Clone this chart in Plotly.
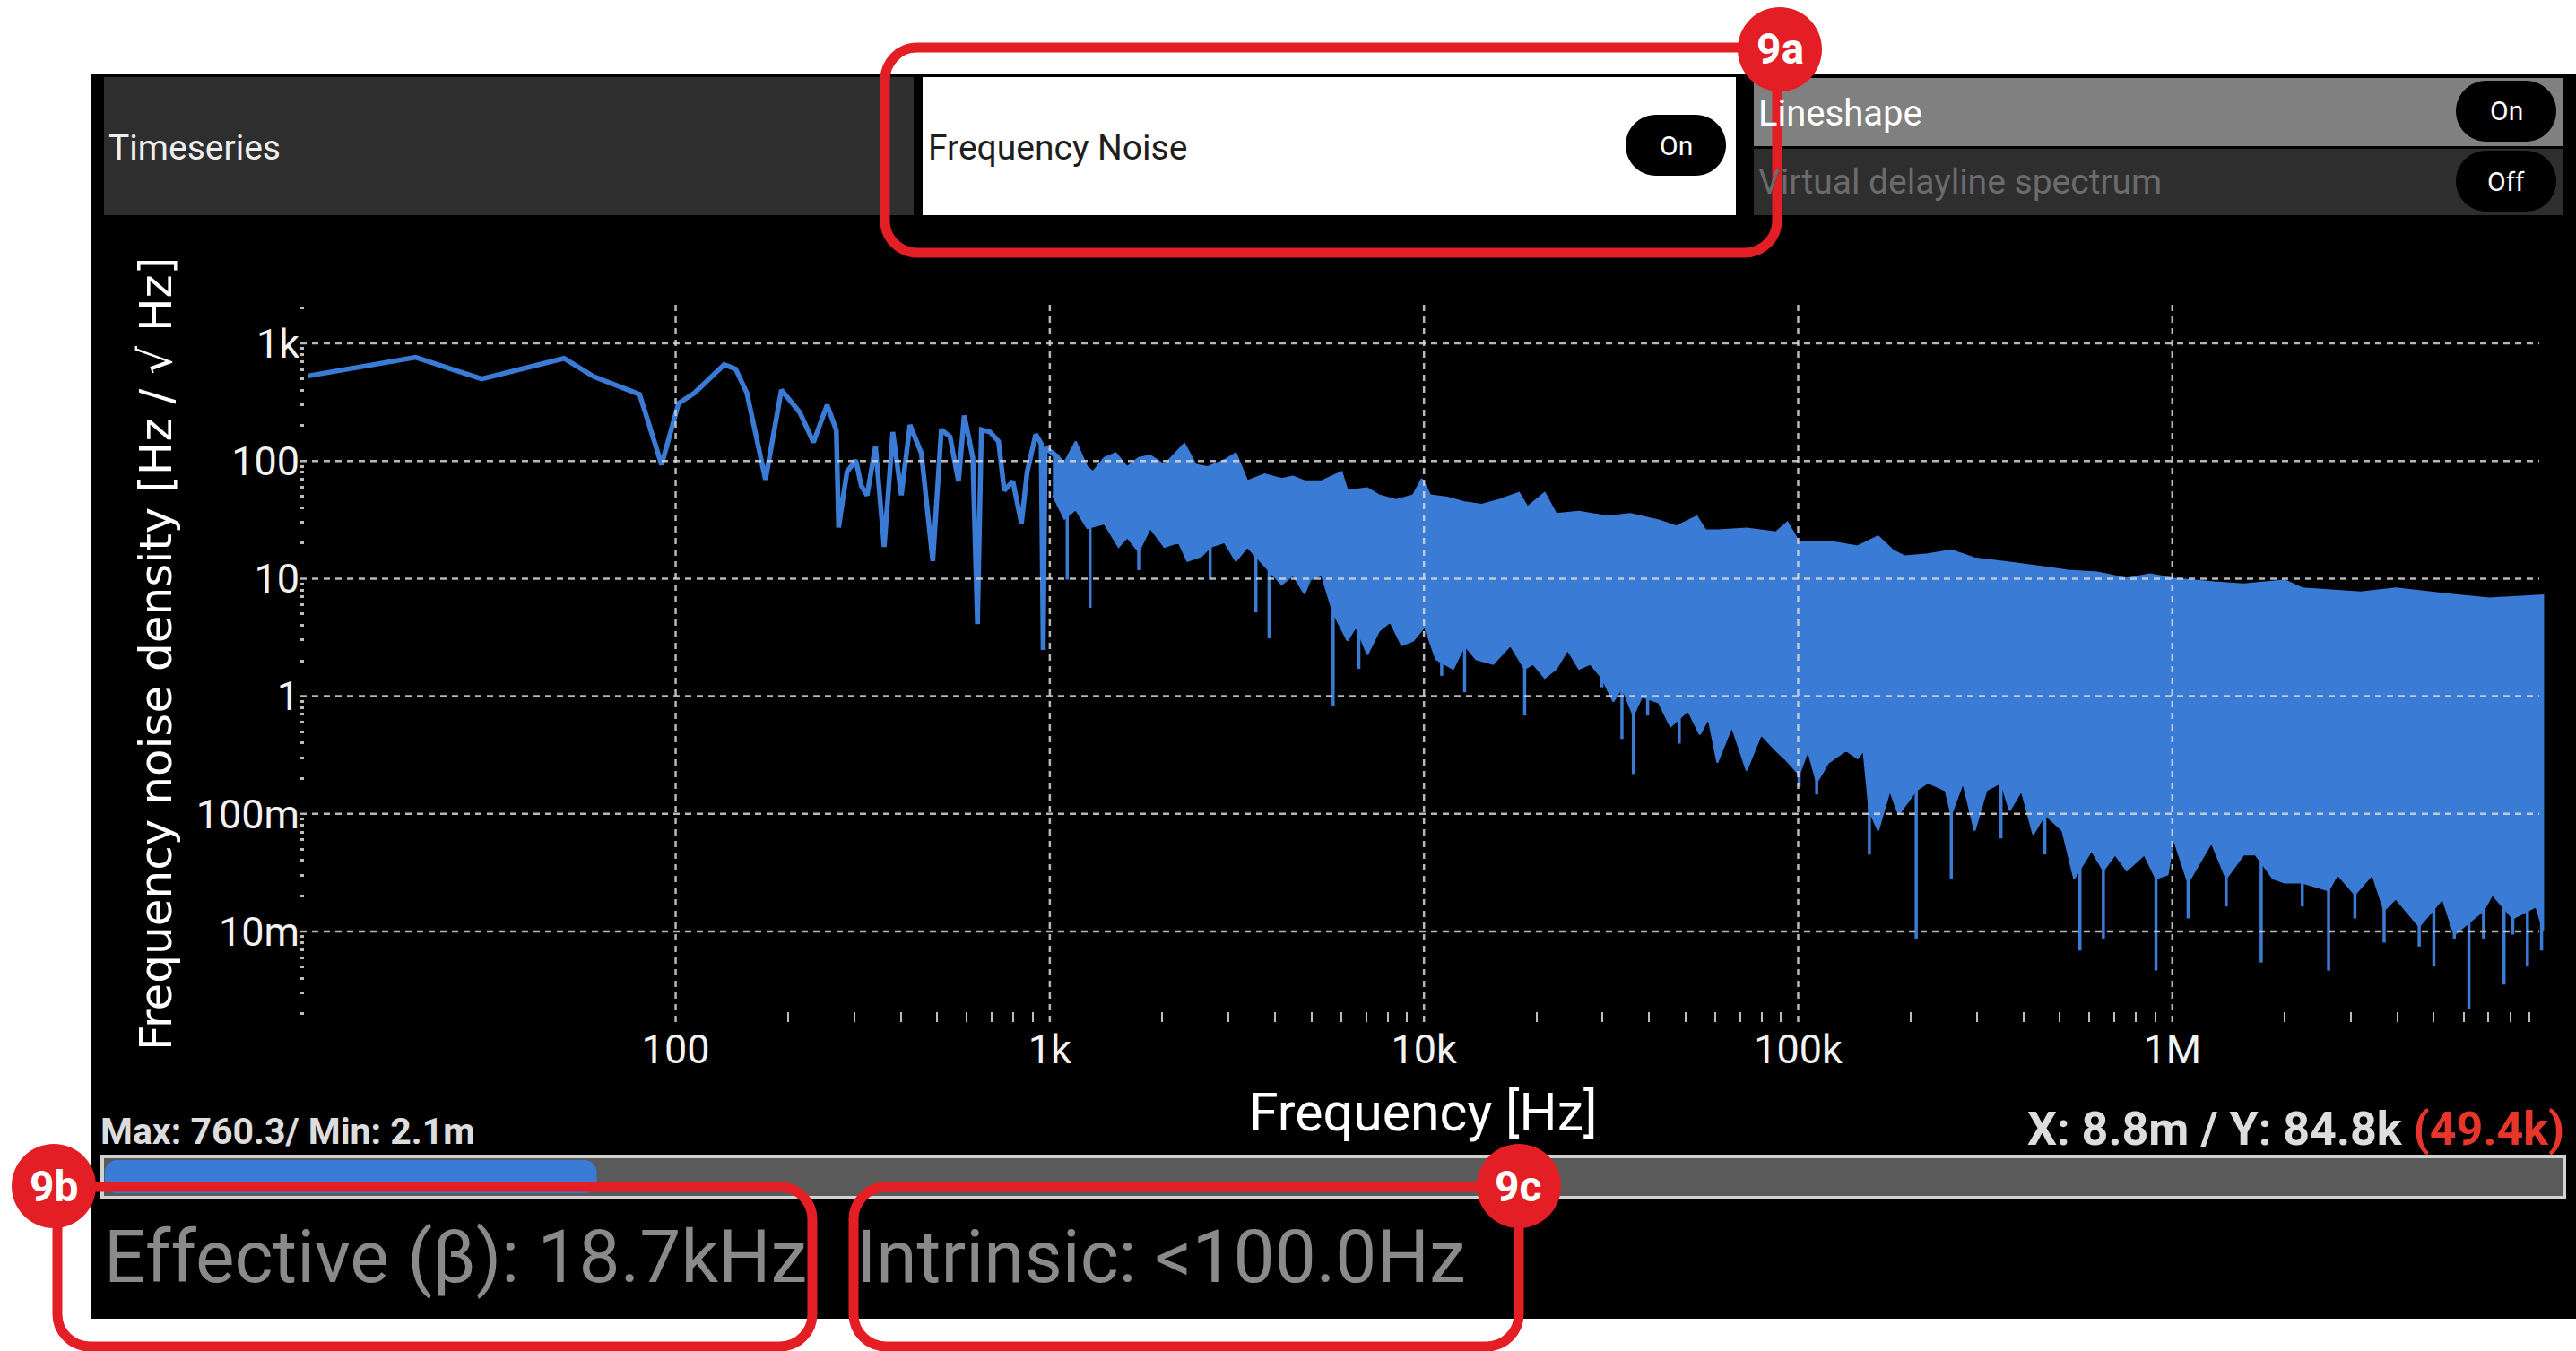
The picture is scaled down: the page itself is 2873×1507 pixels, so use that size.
import numpy as np
import plotly.graph_objects as go

W, H = 2873, 1507

# ---------------- data ----------------
# low-frequency part of the spectrum (single line)
low_freq = [10.4, 20.2, 30.3, 50.3, 60.4, 80.1, 91.7, 101.8, 112.3, 134.8, 144.7, 155, 173.8,
            191.7, 214.6, 233.5, 254, 268.8, 272.6, 287, 303, 313.5, 324.8, 342, 360.8, 380.5,
            401, 422.8, 453.6, 486.6, 513, 541, 570, 590.6, 622.6, 640.6, 656.4, 692, 729.4,
            755.5, 796.6, 839.8, 869.9, 917, 948, 959.8, 972, 1001, 1055]
low_val = [528, 760, 498, 745, 522, 368, 93, 309, 379, 660, 605, 379, 69.4,
           401, 259, 144, 300, 182, 27.2, 80.7, 101.6, 61.3, 51.1, 133.8, 18.6, 176,
           51.1, 202, 116.6, 14.1, 184.5, 160.8, 67.3, 243, 106.4, 4.1, 184.5, 176, 146.7,
           56, 67.3, 29.4, 80.8, 168.4, 140, 2.47, 130, 122, 106.4]

# dense part: upper contour
env_up_freq = [1019, 1094, 1173, 1259, 1304, 1399, 1501, 1610, 1728, 1854, 2024, 2289, 2457,
               2636, 2929, 3143, 3372, 3747, 4165, 4468, 4794, 5328, 6026, 6243, 7060, 7576,
               8418, 9357, 9863, 10400, 11550, 12840, 14270, 15860, 17940, 18910, 21020,
               22550, 25960, 30950, 35630,
               42400, 47300, 53600, 56600, 60800, 72800, 87200, 93600, 100600, 124900, 144200,
               163600, 179000, 192400, 222200, 256600, 296300, 367700, 440200, 527000, 630800,
               755300, 872300, 1007000, 1296000, 1551000, 1997000, 2225000, 3187000, 3956000,
               5470000, 7040000, 9800000]
env_up_val = [122.1, 97.1, 146.7, 88.6, 80.8, 106.4, 116.6, 88.6, 106.4, 111.4, 92.7, 140.1, 92.7,
              88.6, 101.6, 116.6, 67.3, 77.2, 70.4, 73.7, 67.3, 67.3, 80.8, 56.0, 58.6, 51.1,
              46.6, 51.1, 70.4, 51.1, 48.8, 44.5, 42.5, 46.6, 53.5, 40.6, 53.5,
              35.4, 37.0, 33.8, 35.4,
              31.3, 27.8, 33.8, 25.7, 25.7, 26.7, 24.7, 30.1, 20.3, 20.3, 18.8,
              22.9, 17.4, 15.5, 16.1, 17.4, 14.9, 13.7, 12.7, 11.7, 11.3,
              10.04, 10.9, 10.04, 9.29, 8.93, 9.66, 8.26, 7.63, 8.26,
              7.34, 6.79, 7.2]

# dense part: lower contour
env_lo_freq = [1019, 1094, 1173, 1259, 1399, 1527, 1610, 1728, 1854, 2024, 2210, 2330, 2544,
               2682, 2929, 3143, 3372, 3747, 4165, 4468, 4794, 4966, 5328, 5717, 6243, 6579,
               7060, 7576, 8126, 8718, 9357, 10040, 10770, 11970, 12840, 13780, 15310, 17020,
               18580, 19590, 21020, 22550, 24200, 25960, 27860, 29890, 32070, 33810, 36270,
               38230,
               42400, 45600, 50800, 54600, 57600, 60800, 66500, 72800, 79600, 87200, 92000,
               100600, 106200, 112100, 120500, 134300, 144200, 149500, 155000, 163600, 175800,
               185600, 206800, 222200, 247600, 256600, 275800, 296300, 318400, 348400, 367700,
               395300, 424800, 456300, 508500, 546400, 608600, 654100, 703000, 755300, 841700,
               904300, 971900, 1007000, 1102000, 1273000, 1393000, 1551000, 1668000, 1858000,
               1997000, 2225000, 2616000, 2761000, 3076000, 3426000, 3681000, 3956000, 4569000,
               5277000, 5671000, 6788000, 7165000, 8126000, 9384000, 9800000]
env_lo_val = [51.1, 32.3, 38.8, 26.9, 29.4, 18.6, 22.4, 17.0, 26.9, 18.6, 20.4, 14.1, 15.5,
              18.6, 20.4, 14.1, 18.6, 12.9, 8.94, 10.7, 7.44, 9.8, 10.7, 5.15, 2.97, 3.91,
              2.26, 3.57, 4.29, 2.71, 2.97, 3.91, 2.06, 1.71, 2.71, 2.06, 1.88, 2.71,
              1.71, 1.88, 1.43, 1.71, 2.47, 1.71, 1.88, 1.43, 0.902, 1.19, 0.685,
              0.989,
              0.885, 0.553, 0.757, 0.473, 0.647, 0.273, 0.553, 0.234, 0.473, 0.346, 0.296,
              0.216, 0.346, 0.1847, 0.273, 0.346, 0.296, 0.346, 0.1067, 0.0721, 0.158,
              0.0987, 0.158, 0.1847, 0.158, 0.0987, 0.1847, 0.0721, 0.158, 0.1847, 0.1067,
              0.158, 0.0667, 0.0987, 0.0721, 0.0282, 0.0488, 0.033, 0.0451, 0.033, 0.0451,
              0.0282, 0.0305, 0.0617, 0.026, 0.057, 0.0282, 0.0451, 0.0451, 0.0282,
              0.026, 0.026, 0.0223, 0.0305, 0.0206, 0.0305, 0.0151, 0.019, 0.011,
              0.019, 0.0094, 0.0151, 0.0206, 0.0129, 0.0163, 0.0102]

# isolated thin downward spikes (frequency, minimum value)
spike_freq = [1113, 1281, 1728, 2682, 3555, 3854, 5717, 6697, 11150, 12840, 18580, 29890,
              33810, 36270, 39600, 48100, 100600, 112100, 155000, 206800, 256600, 348400,
              456300, 566400, 654100, 904300, 1102000, 1393000, 1728000, 2225000, 2616000,
              3076000, 3681000, 4569000, 5000000, 5671000, 6204000, 6788000, 7700000,
              8126000, 8892000, 9700000]
spike_val = [9.8, 5.65, 11.8, 9.8, 5.15, 3.11, 0.823, 1.71, 1.49, 1.08, 0.685, 1.19,
             0.433, 0.218, 0.685, 0.395, 0.1708, 0.146, 0.0451, 0.0087, 0.0282, 0.0617,
             0.0451, 0.00688, 0.0087, 0.00465, 0.0129, 0.0163, 0.00544, 0.0163, 0.00465,
             0.0129, 0.00804, 0.00744, 0.00503, 0.0087, 0.00221, 0.0087, 0.00353,
             0.0094, 0.00503, 0.00688]

x_tick_vals = [1e2, 1e3, 1e4, 1e5, 1e6]
x_tick_text = ["100", "1k", "10k", "100k", "1M"]
y_tick_vals = [1e-2, 1e-1, 1, 10, 100, 1000]
y_tick_text = ["10m", "100m", "1", "10", "100", "1k"]

x_title = "Frequency [Hz]"
y_title = "Frequency noise density [Hz / √ Hz]"
stats_text = "Max: 760.3/ Min: 2.1m"
cursor_text = "X: 8.8m / Y: 84.8k"
cursor_red = "(49.4k)"
effective_text = "Effective (β): 18.7kHz"
intrinsic_text = "Intrinsic: <100.0Hz"
progress_fraction = 0.2

# ---------------- styling ----------------
BLUE = "#3a7bd5"
RED = "#e31e24"
NARROW = "Roboto, Liberation Sans, sans-serif"
GRID = "rgba(215,215,215,0.85)"

XR = [0.997, 6.995]
YR = [-2.77, 3.381]
PL, PR, PT, PB = 335, 2838, 333, 1140   # plot area in pixels


def px(x):
    return x / W


def py(y):
    return 1 - y / H


def rrect(x0, y0, x1, y1, r):
    k = 0.5523 * r
    pts = [("M", [(x0 + r, y0)]), ("L", [(x1 - r, y0)]),
           ("C", [(x1 - r + k, y0), (x1, y0 + r - k), (x1, y0 + r)]),
           ("L", [(x1, y1 - r)]),
           ("C", [(x1, y1 - r + k), (x1 - r + k, y1), (x1 - r, y1)]),
           ("L", [(x0 + r, y1)]),
           ("C", [(x0 + r - k, y1), (x0, y1 - r + k), (x0, y1 - r)]),
           ("L", [(x0, y0 + r)]),
           ("C", [(x0, y0 + r - k), (x0 + r - k, y0), (x0 + r, y0)])]
    s = ""
    for cmd, pp in pts:
        s += cmd + " " + " ".join(f"{px(a):.6f},{py(b):.6f}" for a, b in pp) + " "
    return s + "Z"


shapes = []


def add_rect(x0, y0, x1, y1, fill, r=0, line_color=None, line_width=0, layer="below"):
    shapes.append(dict(type="path", path=rrect(x0, y0, x1, y1, r), xref="paper", yref="paper",
                       fillcolor=fill, layer=layer,
                       line=dict(color=line_color or "rgba(0,0,0,0)", width=line_width)))


# black instrument panel
add_rect(101, 83, 2873, 1471, "#000000")
# header tabs
add_rect(116, 86, 1019, 240, "#2e2e2e")
add_rect(1029, 86, 1936, 240, "#ffffff")
add_rect(1956, 87, 2859, 163, "#808080")
add_rect(1956, 166, 2859, 240, "#2e2e2e")
# pills
for cx, cy in [(1869, 162), (2795, 124), (2795, 202)]:
    add_rect(cx - 56, cy - 34, cx + 56, cy + 34, "#000000", r=34)
# progress bar
add_rect(114, 1290, 2860, 1336, "#5a5a5a", line_color="#d2d2d2", line_width=4)
add_rect(117, 1294, 117 + progress_fraction * (2860 - 117), 1331, BLUE, r=14)

# gridlines above traces (dashed)
for v in x_tick_vals:
    shapes.append(dict(type="line", xref="x", yref="paper", x0=v, x1=v,
                       y0=py(PB), y1=py(PT), layer="above",
                       line=dict(color=GRID, width=2.5, dash="7px,6px")))
for v in y_tick_vals:
    shapes.append(dict(type="line", xref="paper", yref="y", x0=px(PL), x1=px(2832),
                       y0=v, y1=v, layer="above",
                       line=dict(color=GRID, width=2.5, dash="7px,6px")))

# red callout boxes and circles
for (x0, y0, x1, y1) in [(987, 53, 1982, 282), (64, 1324, 906, 1502), (952, 1324, 1694, 1502)]:
    add_rect(x0, y0, x1, y1, "rgba(0,0,0,0)", r=36, line_color=RED, line_width=11, layer="above")
badges = [("9a", 1985, 55), ("9b", 60, 1323), ("9c", 1694, 1323)]
for _, cx, cy in badges:
    shapes.append(dict(type="circle", xref="paper", yref="paper",
                       x0=px(cx - 47), x1=px(cx + 47), y0=py(cy + 47), y1=py(cy - 47),
                       fillcolor=RED, line=dict(color=RED, width=0), layer="above"))

# ---------------- traces ----------------
fig = go.Figure()
band_x = env_up_freq + env_lo_freq[::-1]
band_y = env_up_val + env_lo_val[::-1]
fig.add_trace(go.Scatter(x=band_x, y=band_y, mode="lines", fill="toself", fillcolor=BLUE,
                         line=dict(color=BLUE, width=2), hoverinfo="skip", showlegend=False))

base = 10 ** np.interp(np.log10(spike_freq), np.log10(env_lo_freq), np.log10(env_lo_val))
sx, sy = [], []
for f, v, b in zip(spike_freq, spike_val, base):
    sx += [f, f, None]
    sy += [b * 1.6, v, None]
fig.add_trace(go.Scatter(x=sx, y=sy, mode="lines", line=dict(color=BLUE, width=3.5),
                         hoverinfo="skip", showlegend=False))

fig.add_trace(go.Scatter(x=low_freq, y=low_val, mode="lines",
                         line=dict(color=BLUE, width=5.5), showlegend=False))

# ---------------- annotations ----------------
ann = []


def text(x, y, s, size, color, xanchor="left", family=NARROW, angle=0):
    ann.append(dict(x=px(x), y=py(y), xref="paper", yref="paper", text=s, showarrow=False,
                    xanchor=xanchor, yanchor="middle", textangle=angle,
                    font=dict(size=size, color=color, family=family)))


text(119, 165, "Timeseries", 39, "#eeeeee")
text(1033, 165, "Frequency Noise", 39, "#1e1e1e")
text(1869, 162, "On", 30, "#ffffff", "center")
text(1959, 126, "Lineshape", 40, "#ffffff")
text(2795, 124, "On", 30, "#ffffff", "center")
text(1959, 203, "Virtual delayline spectrum", 39, "#6b6b6b")
text(2795, 202, "Off", 30, "#ffffff", "center")
text(174, 730, y_title, 50, "#ffffff", "center", family="DejaVu Sans", angle=-90)
text(1587, 1240, x_title, 59, "#ffffff", "center")
text(110, 1262, "<b>" + stats_text + "</b>", 41, "#dddddd")
text(2862, 1259, "<b>" + cursor_text + " <span style='color:#e8352b'>" + cursor_red + "</span></b>",
     52, "#dddddd", "right")
text(114, 1402, effective_text, 82, "#8a8a8a")
text(953, 1402, intrinsic_text, 82, "#8a8a8a")
for lab, cx, cy in badges:
    text(cx, cy, "<b>" + lab + "</b>", 48, "#ffffff", "center")

minor_x = [k * 10 ** d for d in range(2, 7) for k in range(2, 10)]
minor_y = [k * 10.0 ** d for d in range(-3, 4) for k in range(2, 10)
           if YR[0] < np.log10(k * 10.0 ** d) < YR[1]]

fig.update_layout(
    width=W, height=H, margin=dict(l=0, r=0, t=0, b=0),
    paper_bgcolor="#ffffff", plot_bgcolor="rgba(0,0,0,0)",
    shapes=shapes, annotations=ann, showlegend=False,
    xaxis=dict(type="log", range=XR, domain=[px(PL), px(PR)], showgrid=False, zeroline=False,
               showline=False, tickmode="array", tickvals=x_tick_vals, ticktext=x_tick_text,
               ticks="", tickfont=dict(size=45, color="#f2f2f2", family=NARROW),
               minor=dict(tickmode="array", tickvals=minor_x, ticks="inside", ticklen=11,
                          tickwidth=2, tickcolor="#bdbdbd", showgrid=False)),
    yaxis=dict(type="log", range=YR, domain=[py(PB), py(PT)], showgrid=False, zeroline=False,
               showline=False, tickmode="array", tickvals=y_tick_vals, ticktext=y_tick_text,
               ticks="", tickfont=dict(size=45, color="#f2f2f2", family=NARROW),
               minor=dict(tickmode="array", tickvals=minor_y, ticks="inside", ticklen=4,
                          tickwidth=3, tickcolor="#bdbdbd", showgrid=False)),
)

fig.write_html("out.html", config={"displayModeBar": False},
               post_script="document.body.style.margin='0';document.body.style.overflow='hidden';")
